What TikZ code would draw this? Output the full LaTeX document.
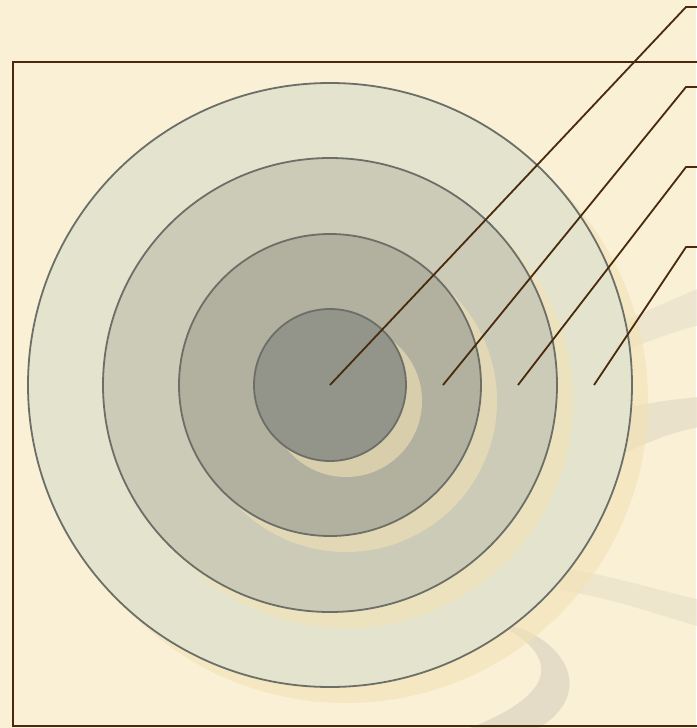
\documentclass[tikz,border=0pt]{standalone}
\definecolor{bg}{HTML}{F9F0D6}
\definecolor{ringA}{HTML}{E4E4CE}
\definecolor{ringB}{HTML}{CCCBB7}
\definecolor{ringC}{HTML}{B2B1A0}
\definecolor{ringD}{HTML}{94958A}
\definecolor{ringline}{HTML}{6C6E68}
\definecolor{brown}{HTML}{4A2A0C}
\definecolor{shade}{HTML}{F2E2B4}
\definecolor{swoosh}{HTML}{E4DCC6}
\tikzset{
  ring/.style={draw=ringline, line width=1.8pt},
  shadowdisc/.style={fill=shade, fill opacity=0.6},
  band/.style={fill=swoosh, fill opacity=0.55},
  leader/.style={draw=brown, line width=1.8pt},
  frame/.style={draw=brown, line width=2.2pt}
}
\begin{document}
\begin{tikzpicture}[x=1pt,y=-1pt]
\fill[bg] (0,0) rectangle (696,728);
\useasboundingbox (0,0) rectangle (696,728);
% decorative swooshes
\fill[band] (600,330) .. controls (640,315) and (670,300) .. (700,288) -- (700,325) .. controls (670,332) and (640,345) .. (600,360) -- cycle;
\fill[band, fill opacity=0.75] (600,412) .. controls (640,405) and (670,399) .. (700,397) -- (700,427) .. controls (670,432) and (640,445) .. (600,465) -- cycle;
\fill[band, fill opacity=0.5] (560,568) .. controls (610,575) and (650,588) .. (700,600) -- (700,627) .. controls (650,612) and (610,598) .. (560,590) -- cycle;
\fill[band, fill opacity=1] (490,620) .. controls (555,650) and (570,690) .. (465,730) -- (535,730) .. controls (590,700) and (575,650) .. (520,628) -- cycle;
% center
\coordinate (c) at (330,385);
% rings with shadows
\fill[shadowdisc] (346,401) circle (302);
\draw[ring, fill=ringA] (c) circle (302);
\fill[shadowdisc] (346,401) circle (227);
\draw[ring, fill=ringB] (c) circle (227);
\fill[shadowdisc] (346,401) circle (151);
\draw[ring, fill=ringC] (c) circle (151);
\fill[shadowdisc] (346,401) circle (76);
\draw[ring, fill=ringD] (c) circle (76);
% frame
\draw[frame] (700,62) -- (13,62) -- (13,726) -- (700,726);
% leaders
\coordinate (p1) at (330,385);
\coordinate (p2) at (443,385);
\coordinate (p3) at (518,385);
\coordinate (p4) at (594,385);
\coordinate (k1) at (686,7);
\coordinate (k2) at (686,87);
\coordinate (k3) at (686,167);
\coordinate (k4) at (686,247);
\coordinate (e1) at (697,7);
\coordinate (e2) at (697,87);
\coordinate (e3) at (697,167);
\coordinate (e4) at (697,247);
\draw[leader] (p1) -- (k1) -- (e1);
\draw[leader] (p2) -- (k2) -- (e2);
\draw[leader] (p3) -- (k3) -- (e3);
\draw[leader] (p4) -- (k4) -- (e4);
\end{tikzpicture}
\end{document}
